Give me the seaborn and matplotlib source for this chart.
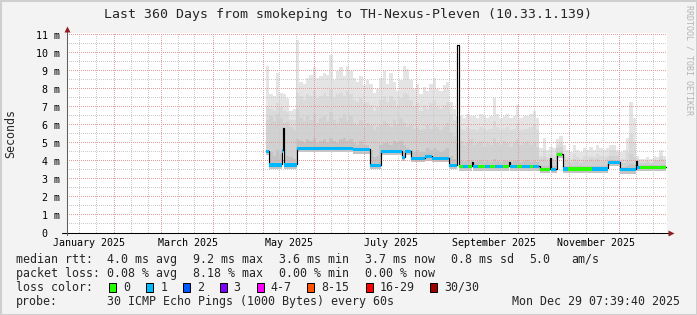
import numpy as np
import pandas as pd
import matplotlib
matplotlib.use("Agg")
import matplotlib.pyplot as plt
import matplotlib.transforms as mtransforms
from matplotlib.patches import Rectangle
import seaborn as sns

# ---------------- data ----------------
WINDOW_END = pd.Timestamp("2025-12-29 07:39:40")
WINDOW_DAYS = 360
TITLE = "Last 360 Days from smokeping to TH-Nexus-Pleven (10.33.1.139)"

# median rtt (ms) as a step series: day offset in window where each level starts
med_day = [119.6, 121.6, 129.0, 130.0, 130.6, 138.0, 172.0, 182.0, 188.9, 201.2,
           203.0, 206.6, 215.0, 219.2, 229.7, 234.4, 235.2, 243.2, 243.8, 265.7,
           266.3, 284.0, 290.0, 290.9, 294.2, 298.1, 325.1, 332.3, 341.6, 342.5]
med_ms = [4.57, 3.82, 4.60, 5.85, 3.82, 4.74, 4.66, 3.78, 4.57, 4.24,
          4.58, 4.18, 4.27, 4.18, 3.78, 10.44, 3.72, 3.96, 3.72, 3.96,
          3.72, 3.58, 4.18, 3.58, 4.39, 3.59, 3.96, 3.55, 4.02, 3.68]
data_end_day = 359.6

# loss class of the median line (0 = 0 lost, 1 = 1 lost of 30)
loss_day = [119.6, 235.2, 238.0, 241.0, 244.0, 247.0, 251.0, 254.0, 257.0, 262.0, 266.0,
            270.0, 273.0, 278.0, 280.0, 283.4, 290.6, 293.6, 297.2, 300.8, 315.2, 344.0]
loss_cls = [1, 0, 1, 0, 1, 0, 1, 0, 1, 0, 1,
            0, 1, 0, 1, 0, 1, 0, 1, 0, 1, 0]

# smoke (ms): 2-day bins starting at day 119.6, from the top layer down
smoke_start_day = 119.6
smoke_bin_days = 2.0
smoke_max = [9.3, 7.7, 7.6, 8.9, 7.8, 7.7, 7.5, 6.8, 6.9, 10.7,
             8.4, 8.3, 8.6, 8.8, 9.2, 8.6, 8.7, 8.9, 8.8, 9.9,
             8.5, 9.0, 9.2, 8.7, 9.3, 9.0, 8.6, 8.4, 8.7, 8.2,
             8.5, 8.3, 7.8, 8.0, 8.6, 9.0, 8.3, 8.9, 8.4, 7.9,
             8.5, 9.3, 9.1, 8.5, 8.0, 8.3, 7.7, 8.1, 7.9, 8.3,
             8.6, 8.0, 7.9, 8.2, 8.4, 7.3, 6.9, 6.5, 6.5, 6.4,
             6.6, 6.5, 6.5, 6.4, 6.6, 6.5, 6.4, 6.5, 7.5, 6.6,
             6.4, 6.5, 6.6, 6.4, 6.5, 7.1, 6.4, 6.5, 6.5, 6.6,
             6.8, 6.4, 4.7, 5.3, 4.6, 4.8, 4.7, 5.2, 5.4, 4.9,
             4.6, 4.5, 4.9, 4.6, 4.5, 4.7, 4.6, 4.8, 4.6, 4.9,
             4.7, 4.6, 4.7, 4.9, 4.9, 4.6, 4.5, 4.6, 5.3, 7.3,
             6.4, 4.3, 4.1, 4.1, 4.2, 4.1, 4.3, 4.2, 4.6, 4.3]
smoke_upper = [7.0, 6.9, 6.8, 7.2, 7.0, 6.8, 6.7, 6.3, 6.3, 7.8,
               7.6, 7.4, 7.7, 7.6, 7.9, 7.5, 7.6, 7.8, 7.6, 8.0,
               7.5, 7.7, 7.8, 7.6, 7.9, 7.7, 7.4, 7.3, 7.5, 7.2,
               7.3, 7.1, 6.8, 7.0, 7.4, 7.6, 7.3, 7.6, 7.4, 7.0,
               7.5, 7.8, 7.7, 7.4, 7.0, 7.2, 6.8, 7.1, 6.9, 7.2,
               7.4, 7.0, 6.9, 7.1, 7.3, 6.6, 6.3, 5.8, 5.8, 5.7,
               5.9, 5.8, 5.8, 5.7, 5.9, 5.8, 5.7, 5.8, 6.2, 5.9,
               5.7, 5.8, 5.9, 5.7, 5.8, 6.1, 5.7, 5.8, 5.8, 5.9,
               6.0, 5.7, 4.3, 4.6, 4.2, 4.4, 4.3, 4.9, 5.0, 4.4,
               4.2, 4.1, 4.4, 4.2, 4.1, 4.3, 4.2, 4.3, 4.2, 4.4,
               4.3, 4.2, 4.3, 4.6, 4.6, 4.5, 4.1, 4.1, 4.5, 5.5,
               5.0, 4.1, 4.0, 4.0, 4.0, 3.95, 4.1, 4.05, 4.3, 4.1]
smoke_mid = [6.3, 6.5, 6.2, 6.6, 6.4, 6.1, 6.2, 5.9, 5.7, 6.9,
             6.4, 6.2, 6.5, 6.3, 6.6, 6.1, 6.4, 6.5, 6.2, 6.7,
             6.3, 6.1, 6.4, 6.6, 6.2, 6.5, 6.1, 6.0, 6.3, 5.9,
             6.1, 6.0, 5.7, 5.9, 6.0, 6.2, 6.1, 5.9, 6.3, 6.0,
             6.4, 6.1, 5.9, 6.0, 5.8, 5.9, 5.7, 5.8, 6.0, 5.8,
             6.0, 5.9, 5.7, 5.9, 6.1, 5.6, 5.4, 5.0, 5.1, 4.9,
             5.0, 5.2, 4.9, 5.0, 5.1, 4.8, 5.0, 4.9, 5.3, 5.0,
             4.9, 5.1, 5.0, 4.8, 5.0, 5.2, 4.9, 5.0, 5.1, 4.9,
             5.0, 4.8, 4.1, 4.2, 4.0, 4.1, 4.0, 4.7, 4.8, 4.1,
             4.0, 3.9, 4.1, 4.0, 3.9, 4.0, 4.0, 4.1, 4.0, 4.1,
             4.0, 4.0, 4.1, 4.3, 4.3, 4.3, 4.0, 3.9, 4.0, 4.4,
             4.2, 4.0, 3.9, 3.9, 4.0, 3.9, 4.0, 4.0, 4.1, 4.0]
smoke_low = [4.4, 4.5, 4.3, 4.6, 4.4, 4.5, 4.3, 4.2, 4.1, 5.2,
             5.1, 5.0, 5.2, 5.1, 5.3, 5.0, 5.1, 5.2, 5.0, 5.3,
             5.1, 5.0, 5.2, 5.3, 5.1, 5.2, 5.0, 4.9, 5.1, 4.9,
             4.9, 4.6, 4.2, 4.3, 4.9, 5.0, 5.0, 4.9, 5.1, 5.0,
             5.1, 4.9, 4.7, 4.6, 4.5, 4.6, 4.5, 4.5, 4.7, 4.6,
             4.7, 4.6, 4.5, 4.6, 4.7, 4.3, 4.1, 4.0, 4.0, 3.95,
             4.0, 4.05, 3.95, 4.0, 4.05, 3.95, 4.0, 3.95, 4.1, 4.0,
             3.95, 4.05, 4.0, 3.95, 4.0, 4.05, 3.95, 4.0, 4.05, 3.95,
             4.0, 3.95, 3.7, 3.75, 3.7, 3.7, 3.7, 4.5, 4.55, 3.7,
             3.7, 3.7, 3.72, 3.7, 3.7, 3.72, 3.7, 3.75, 3.7, 3.72,
             3.72, 3.7, 3.8, 4.08, 4.08, 4.05, 3.68, 3.65, 3.7, 3.85,
             3.8, 3.78, 3.76, 3.76, 3.78, 3.76, 3.78, 3.76, 3.8, 3.78]
smoke_colors = ["#e4e4e4", "#dadada", "#d1d1d1", "#c3c3c3"]

y_tick_values = list(range(0, 12))
x_label_months = ["2025-01-01", "2025-03-01", "2025-05-01", "2025-07-01", "2025-09-01", "2025-11-01"]
x_label_texts = ["January 2025", "March 2025", "May 2025", "July 2025", "September 2025", "November 2025"]

rtt_stats = ["4.0 ms avg", "9.2 ms max", "3.6 ms min", "3.7 ms now", "0.8 ms sd", "5.0", "am/s"]
loss_stats = ["0.08 % avg", "8.18 % max", "0.00 % min", "0.00 % now"]
loss_labels = ["0", "1", "2", "3", "4-7", "8-15", "16-29", "30/30"]
loss_colors = ["#26ff00", "#00b8ff", "#0059ff", "#7e00ff", "#ff00ff", "#ff5500", "#ff0000", "#a10000"]
probe_text = "30 ICMP Echo Pings (1000 Bytes) every 60s"
stamp_text = "Mon Dec 29 07:39:40 2025"

# ---------------- style ----------------
sns.set_style("white")
plt.rcParams['font.family'] = ['DejaVu Sans Mono', 'DejaVu Sans']
FS = 8.37     # legend text (7 px per char)
FS_AX = 7.18  # axis labels (6 px per char)
W, H = 697, 315
PLOT_W, PLOT_H = 600, 200
Y_MAX = 200 / 18

def fx(x):
    return x / W

def fy(y):
    return (H - y) / H

fig = plt.figure(figsize=(W / 100, H / 100), dpi=100, facecolor='#f3f3f3')
ax = fig.add_axes([66.5 / W, (H - 233) / H, PLOT_W / W, PLOT_H / H])
ax.set_facecolor('white')
ax.set_xlim(0, WINDOW_DAYS)
ax.set_ylim(0, Y_MAX)
for s in ax.spines.values():
    s.set_visible(False)

start = WINDOW_END - pd.Timedelta(days=WINDOW_DAYS)

def day_of(ts):
    return (pd.Timestamp(ts) - start) / pd.Timedelta(days=1)

# grid positions
months = pd.date_range("2025-01-01", "2026-01-01", freq="MS")
major_x = [day_of(m) for m in months if 0 <= day_of(m) <= WINDOW_DAYS]
minor_x = []
for m in months:
    for dd in (10, 20):
        d = day_of(m + pd.Timedelta(days=dd))
        if 0 <= d <= WINDOW_DAYS:
            minor_x.append(d)
major_y = [v for v in y_tick_values if v > 0]
minor_y = [v + 0.5 for v in y_tick_values[:-1]]

ax.set_xticks(major_x)
ax.set_xticks(minor_x, minor=True)
ax.set_yticks(y_tick_values)
ax.set_yticks(minor_y, minor=True)
ax.tick_params(which='both', labelbottom=False, labelleft=False, direction='out', width=0.72)
ax.tick_params(which='major', length=2.5, color='#c87878')
ax.tick_params(which='minor', length=2, color='#b0b0b0')

# dotted grid drawn as single-pixel dots (1 px on, 1 px off)
dot_y = np.arange(0, PLOT_H, 2) * Y_MAX / PLOT_H
dot_x = np.arange(0, PLOT_W, 2) * WINDOW_DAYS / PLOT_W
def vdots(xs, color):
    X = np.repeat(xs, len(dot_y))
    Y = np.tile(dot_y, len(xs))
    ax.plot(X, Y, ls='none', marker=',', color=color, zorder=2.5)
def hdots(ys, color):
    Y = np.repeat(ys, len(dot_x))
    X = np.tile(dot_x, len(ys))
    ax.plot(X, Y, ls='none', marker=',', color=color, zorder=2.5)
vdots(minor_x, '#cbcbcb')
hdots(minor_y, '#cbcbcb')
vdots(major_x, '#e39c9c')
hdots(major_y, '#e39c9c')

# ---------------- smoke ----------------
nb = len(smoke_max)
edges = smoke_start_day + smoke_bin_days * np.arange(nb + 1)
def ext(a):
    return np.append(np.asarray(a, float), a[-1])
for i, (layer, col) in enumerate(zip([smoke_max, smoke_upper, smoke_mid, smoke_low], smoke_colors)):
    ax.fill_between(edges, 0, ext(layer), step='post', color=col, lw=0, zorder=1 + 0.02 * i)

# clear below the smoke floor (just under the median)
mx = np.append(med_day, data_end_day)
my = np.append(med_ms, med_ms[-1])
ax.fill_between(mx, 0, my - 0.25, step='post', color='white', lw=0, zorder=1.2)

# ---------------- median line ----------------
med_df = pd.DataFrame({"day": mx, "ms": my})
sns.lineplot(data=med_df, x="day", y="ms", drawstyle='steps-post', color='black',
             lw=0.85, estimator=None, sort=False, ax=ax, zorder=4)
ax.set_xlabel("")
ax.set_ylabel("")

t = np.array(sorted(set(med_day) | set(loss_day)) + [data_end_day])
for a, b in zip(t[:-1], t[1:]):
    if b - a < 1.0:
        continue
    m = med_ms[np.searchsorted(med_day, a, side='right') - 1]
    lc = loss_cls[np.searchsorted(loss_day, a, side='right') - 1]
    ax.bar(a, 0.18, bottom=m - 0.13, width=b - a, align='edge',
           color=loss_colors[lc], lw=0, zorder=5)

# ---------------- axes lines & arrows ----------------
ax.plot([-0.008, 1.008], [0, 0], transform=ax.transAxes, color='black', lw=0.75,
        clip_on=False, zorder=6)
ax.plot([0, 0], [-0.012, 1.015], transform=ax.transAxes, color='#606060', lw=0.75,
        clip_on=False, zorder=6)
ax.plot([1.008], [0], marker='>', ms=4.2, color='#902020', transform=ax.transAxes,
        clip_on=False, zorder=7, mec='none')
ax.plot([0], [1.02], marker='^', ms=4.2, color='#902020', transform=ax.transAxes,
        clip_on=False, zorder=7, mec='none')

# ---------------- tick labels ----------------
ytrans = mtransforms.offset_copy(
    mtransforms.blended_transform_factory(fig.transFigure, ax.transData),
    fig=fig, x=0, y=-3.7, units='dots')
for v in y_tick_values:
    lab = f"{v:2d} m" if v > 0 else " 0  "
    ax.text(fx(36), v, lab, transform=ytrans, ha='left', va='baseline',
            fontsize=FS_AX, color='black', clip_on=False)

xtrans = mtransforms.blended_transform_factory(ax.transData, fig.transFigure)
for mstr, lab in zip(x_label_months, x_label_texts):
    ax.text(day_of(mstr) + 16, fy(245.8), lab, transform=xtrans, ha='center',
            va='baseline', fontsize=FS_AX, color='black', clip_on=False)

fig.text(fx(11), fy(133), "Seconds", rotation=90, ha='center', va='center', fontsize=FS)
fig.text(0.5, fy(18), TITLE, ha='center', va='baseline', fontsize=9.58)
fig.text(fx(688.5), fy(60), "RRDTOOL / TOBI OETIKER", rotation=270, ha='center',
         va='center', fontsize=6.0, color='#b4b4b4')

# ---------------- legend ----------------
row_y = [262.7, 276.7, 290.7, 305.0]
fig.text(fx(15.5), fy(row_y[0]), "median rtt:", fontsize=FS, va='baseline')
for x, s in zip([107, 193, 279, 365, 451, 529.5, 571.5], rtt_stats):
    fig.text(fx(x), fy(row_y[0]), s, fontsize=FS, va='baseline')
fig.text(fx(15.5), fy(row_y[1]), "packet loss:", fontsize=FS, va='baseline')
for x, s in zip([107, 193, 279, 365], loss_stats):
    fig.text(fx(x), fy(row_y[1]), s, fontsize=FS, va='baseline')
fig.text(fx(15.5), fy(row_y[2]), "loss color:", fontsize=FS, va='baseline')
box_x = [108.7, 146.0, 183.3, 220.0, 256.7, 306.7, 366.0, 430.3]
lab_x = [123.0, 160.5, 197.0, 233.7, 270.5, 321.5, 380.0, 444.5]
for bx, lx, c, s in zip(box_x, lab_x, loss_colors, loss_labels):
    fig.add_artist(Rectangle((fx(bx), fy(292)), 7 / W, 9 / H, transform=fig.transFigure,
                             facecolor=c, edgecolor='black', lw=0.72))
    fig.text(fx(lx), fy(row_y[2]), s, fontsize=FS, va='baseline')
fig.text(fx(15.5), fy(row_y[3]), "probe:", fontsize=FS, va='baseline')
fig.text(fx(107), fy(row_y[3]), probe_text, fontsize=FS, va='baseline')
fig.text(fx(512.3), fy(row_y[3]), stamp_text, fontsize=FS, va='baseline')

# frame
fig.add_artist(Rectangle((0, 0), 1, 1, transform=fig.transFigure, fill=False,
                         edgecolor='#cfcfcf', lw=2.2))

fig.savefig("out.png", dpi=100, facecolor=fig.get_facecolor())
